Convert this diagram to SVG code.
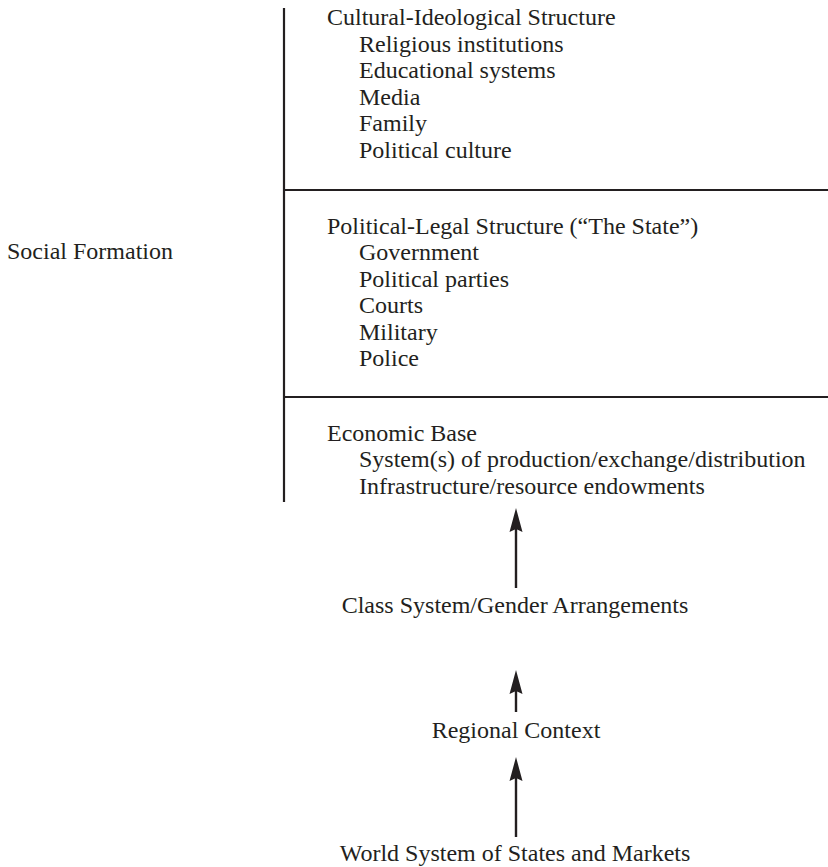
<svg xmlns="http://www.w3.org/2000/svg" width="828" height="867" viewBox="0 0 828 867">
<style>
text{font-family:"Liberation Serif","Times New Roman",serif;font-size:24px;fill:#231f20}
.c{text-anchor:middle}
.e{text-anchor:end}
.ln{stroke:#231f20;stroke-width:2.2;fill:none}
.ar{stroke:#231f20;stroke-width:2.4;fill:none}
.hd{fill:#231f20}
</style>
<rect width="828" height="867" fill="#fff"/>
<g id="frame">
<line class="ln" x1="284" y1="8" x2="284" y2="502"/>
<line class="ln" x1="284" y1="190" x2="828" y2="190"/>
<line class="ln" x1="284" y1="397" x2="828" y2="397"/>
</g>
<g id="social-formation"><text class="e" x="173" y="259">Social Formation</text></g>
<g id="cultural">
<text x="327" y="25">Cultural-Ideological Structure</text>
<text x="359" y="52">Religious institutions</text>
<text x="359" y="78">Educational systems</text>
<text x="359" y="105">Media</text>
<text x="359" y="131">Family</text>
<text x="359" y="158">Political culture</text>
</g>
<g id="political">
<text x="327" y="234">Political-Legal Structure (“The State”)</text>
<text x="359" y="260">Government</text>
<text x="359" y="287">Political parties</text>
<text x="359" y="313">Courts</text>
<text x="359" y="340">Military</text>
<text x="359" y="366">Police</text>
</g>
<g id="economic">
<text x="327" y="441">Economic Base</text>
<text x="359" y="467">System(s) of production/exchange/distribution</text>
<text x="359" y="494">Infrastructure/resource endowments</text>
</g>
<g id="class"><text class="c" x="515" y="613">Class System/Gender Arrangements</text></g>
<g id="regional"><text class="c" x="516" y="738">Regional Context</text></g>
<g id="world"><text class="c" x="515" y="861">World System of States and Markets</text></g>
<g id="connectors">
<line class="ar" x1="516" y1="588" x2="516" y2="525"/>
<path class="hd" d="M516,508 L522.5,532 L516,529 L509.5,532 Z"/>
<line class="ar" x1="516" y1="712" x2="516" y2="688"/>
<path class="hd" d="M516,670 L522.5,694 L516,691 L509.5,694 Z"/>
<line class="ar" x1="516" y1="837" x2="516" y2="774"/>
<path class="hd" d="M516,757 L522.5,781 L516,778 L509.5,781 Z"/>
</g>
</svg>
